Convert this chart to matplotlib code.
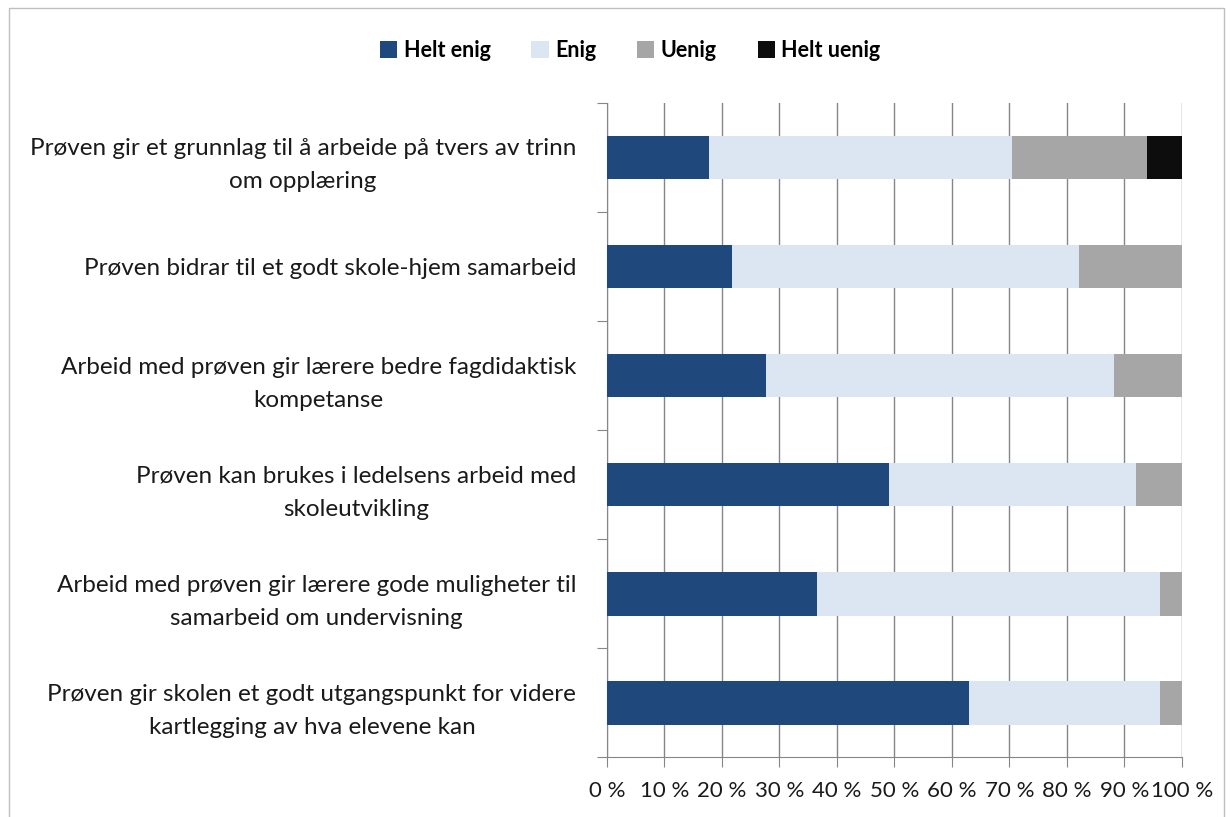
import matplotlib.pyplot as plt
from matplotlib.patches import Rectangle
import numpy as np

plt.rcParams['font.family'] = ['Lato', 'DejaVu Sans']

# svar per påstand (prosent), fra øverst til nederst
utsagn = ["Prøven gir et grunnlag til å arbeide på tvers av trinn\nom opplæring",
          "Prøven bidrar til et godt skole-hjem samarbeid",
          "Arbeid med prøven gir lærere bedre fagdidaktisk\nkompetanse",
          "Prøven kan brukes i ledelsens arbeid med\nskoleutvikling",
          "Arbeid med prøven gir lærere gode muligheter til\nsamarbeid om undervisning",
          "Prøven gir skolen et godt utgangspunkt for videre\nkartlegging av hva elevene kan"]
helt_enig = [17.8, 21.7, 27.7, 49.0, 36.6, 63.0]
enig = [52.6, 60.5, 60.5, 43.1, 59.6, 33.2]
uenig = [23.5, 17.8, 11.8, 7.9, 3.8, 3.8]
helt_uenig = [6.1, 0, 0, 0, 0, 0]
serier = ["Helt enig", "Enig", "Uenig", "Helt uenig"]
farger = ["#1f497d", "#dce6f2", "#a6a6a6", "#0d0d0d"]
xticks = [0, 10, 20, 30, 40, 50, 60, 70, 80, 90, 100]

fig = plt.figure(figsize=(12.31, 8.17), dpi=100)
ax = fig.add_axes([0.493, 0.073, 0.467, 0.801])

y = np.arange(len(utsagn))
venstre = np.zeros(len(utsagn))
for navn, verdier, farge in zip(serier, [helt_enig, enig, uenig, helt_uenig], farger):
    ax.barh(y, verdier, left=venstre, height=0.4, color=farge, label=navn, zorder=3)
    venstre += np.array(verdier)

ax.set_ylim(len(utsagn) - 0.5, -0.5)
ax.set_xlim(0, 100)
ax.set_xticks(xticks)
ax.set_xticklabels([f"{v} %" for v in xticks], fontsize=16, color='#1a1a1a')
ax.grid(axis='x', color='#868686', linewidth=1, zorder=0)

# skillestreker mellom kategoriene, etiketter midt på
ax.set_yticks(np.arange(len(utsagn) + 1) - 0.5)
ax.set_yticklabels([])
ax.set_yticks(y, minor=True)
ax.set_yticklabels(utsagn, minor=True, fontsize=17.5, multialignment='center',
                   linespacing=1.7, color='#1a1a1a')
ax.tick_params(axis='y', which='minor', length=0, pad=22)
ax.tick_params(axis='y', which='major', length=7, color='#868686', direction='out')
ax.tick_params(axis='x', length=7, color='#868686', direction='out', pad=10)

for s in ['top', 'right']:
    ax.spines[s].set_visible(False)
ax.spines['left'].set_color('#868686')
ax.spines['bottom'].set_color('#868686')

fig.legend(loc='center', bbox_to_anchor=(0.512, 0.938), ncol=4, frameon=False,
           prop={'weight': 'bold', 'size': 15.5}, handlelength=0.8, handleheight=0.8,
           handletextpad=0.3, columnspacing=1.9)

fig.patches.append(Rectangle((0.007, -0.02), 0.987, 1.01, transform=fig.transFigure,
                             fill=False, edgecolor='#bfbfbf', linewidth=1))

fig.savefig("out.png", dpi=100)
